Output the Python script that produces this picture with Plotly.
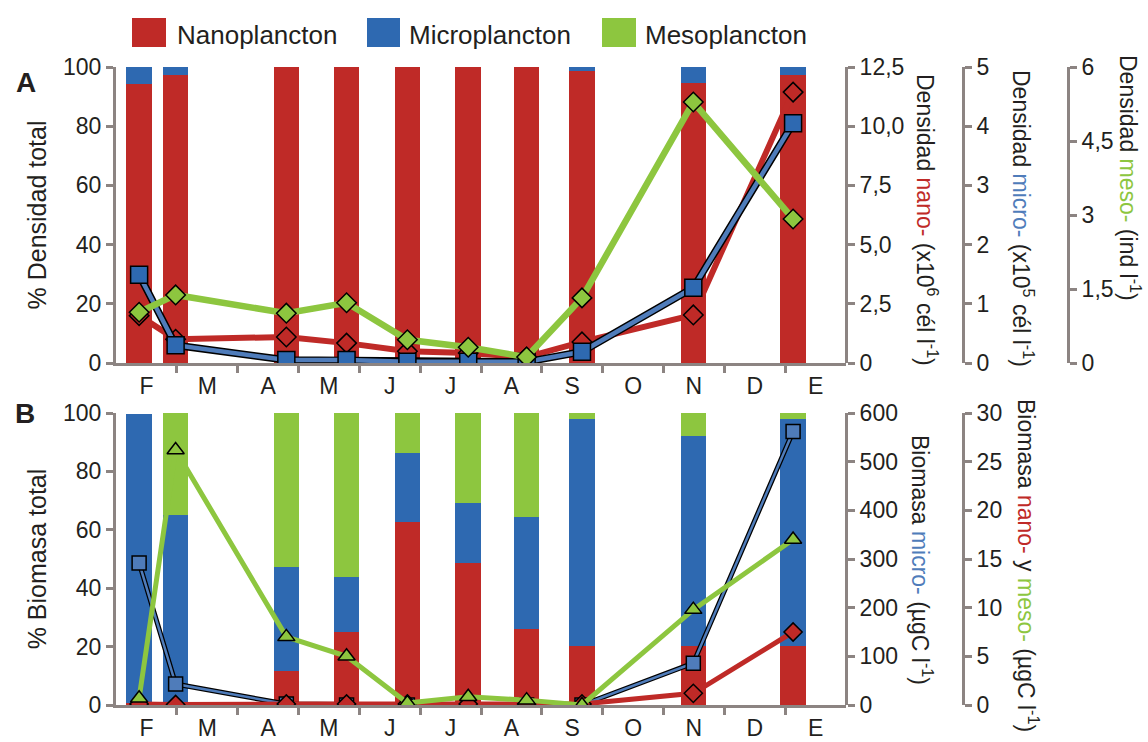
import plotly.graph_objects as go

# ---------------- data ----------------
months = ["F", "M", "A", "M", "J", "J", "A", "S", "O", "N", "D", "E"]
# sampling time, in months since 1 February
sample_t = [0.38, 0.98, 2.80, 3.79, 4.79, 5.79, 6.75, 7.66, 9.49, 11.13]

# Panel A: % of total density
dens_nano_pct = [94.3, 97.3, 100, 100, 100, 100, 100, 98.7, 94.5, 97.3]
dens_micro_pct = [5.7, 2.7, 0, 0, 0, 0, 0, 1.3, 5.5, 2.7]
dens_meso_pct = [0, 0, 0, 0, 0, 0, 0, 0, 0, 0]

# Panel A: densities
dens_nano = [2.0, 1.0, 1.1, 0.84, 0.5, 0.42, 0.25, 0.89, 2.03, 11.44]   # x10^6 cel/l
dens_micro = [1.49, 0.30, 0.05, 0.05, 0.02, 0.02, 0.02, 0.19, 1.27, 4.05]  # x10^5 cel/l
dens_meso = [1.03, 1.38, 1.01, 1.22, 0.47, 0.32, 0.12, 1.32, 5.29, 2.92]  # ind/l

# Panel B: % of total biomass
bio_nano_pct = [0.6, 0.3, 11.8, 24.9, 62.8, 48.5, 26.0, 20.2, 20.2, 20.2]
bio_micro_pct = [99.0, 64.8, 35.4, 18.8, 23.6, 20.6, 38.5, 77.7, 71.9, 77.7]
bio_meso_pct = [0.0, 34.9, 52.8, 56.3, 13.6, 30.9, 35.5, 2.1, 7.9, 2.1]

# Panel B: biomass (ugC/l)
bio_micro = [292, 43, 2, 0, 0, 0, 0, 0, 86, 562]
bio_nano = [0.1, 0.05, 0.1, 0.1, 0.1, 0.1, 0.1, 0.1, 1.2, 7.5]
bio_meso = [0.7, 26.2, 7.0, 5.0, 0.2, 0.85, 0.5, 0.0, 9.8, 17.0]

# tick labels
pct_ticks = [0, 20, 40, 60, 80, 100]
nanoA_ticks = [0, 2.5, 5, 7.5, 10, 12.5]
nanoA_text = ["0", "2,5", "5,0", "7,5", "10,0", "12,5"]
microA_ticks = [0, 1, 2, 3, 4, 5]
mesoA_ticks = [0, 1.5, 3, 4.5, 6]
mesoA_text = ["0", "1,5", "3", "4,5", "6"]
microB_ticks = [0, 100, 200, 300, 400, 500, 600]
nanomesoB_ticks = [0, 5, 10, 15, 20, 25, 30]

legend_names = ["Nanoplancton", "Microplancton", "Mesoplancton"]

# ---------------- style ----------------
RED = "#bf2a27"
BLUE = "#2e69b1"
GREEN = "#8dc63f"
LBLUE = "#4f7cba"
GRAY = "#8c8482"
TXT = "#231f20"
FONT = "Liberation Sans, Arial, sans-serif"
W, H = 1148, 742


def px(x):
    return x / W


def py(y):
    return 1 - y / H


BAR_W = 0.42
fig = go.Figure()

# ---- Panel A bars ----
for vals, col in [(dens_nano_pct, RED), (dens_micro_pct, BLUE), (dens_meso_pct, GREEN)]:
    fig.add_trace(go.Bar(x=sample_t, y=vals, width=BAR_W, marker=dict(color=col, line=dict(width=0)),
                         xaxis="x", yaxis="y", showlegend=False))
# ---- Panel B bars ----
for vals, col in [(bio_nano_pct, RED), (bio_micro_pct, BLUE), (bio_meso_pct, GREEN)]:
    fig.add_trace(go.Bar(x=sample_t, y=vals, width=BAR_W, marker=dict(color=col, line=dict(width=0)),
                         xaxis="x2", yaxis="y5", showlegend=False))

# ---- Panel A lines ----
fig.add_trace(go.Scatter(x=sample_t, y=dens_nano, mode="lines+markers", xaxis="x", yaxis="y2",
                         line=dict(color=RED, width=6),
                         marker=dict(symbol="diamond", size=15, color=RED, line=dict(color="black", width=1.5)),
                         showlegend=False))
fig.add_trace(go.Scatter(x=sample_t, y=dens_micro, mode="lines", xaxis="x", yaxis="y3",
                         line=dict(color="black", width=7.5), showlegend=False))
fig.add_trace(go.Scatter(x=sample_t, y=dens_micro, mode="lines+markers", xaxis="x", yaxis="y3",
                         line=dict(color=LBLUE, width=4.5),
                         marker=dict(symbol="square", size=17, color=BLUE, line=dict(color="black", width=1.5)),
                         showlegend=False))
fig.add_trace(go.Scatter(x=sample_t, y=dens_meso, mode="lines+markers", xaxis="x", yaxis="y4",
                         line=dict(color=GREEN, width=6.5),
                         marker=dict(symbol="diamond", size=15, color=GREEN, line=dict(color="black", width=1.5)),
                         showlegend=False))

# ---- Panel B lines ----
fig.add_trace(go.Scatter(x=sample_t, y=bio_nano, mode="lines+markers", xaxis="x2", yaxis="y7",
                         line=dict(color=RED, width=5),
                         marker=dict(symbol="diamond", size=14, color=RED, line=dict(color="black", width=1.5)),
                         showlegend=False))
fig.add_trace(go.Scatter(x=sample_t, y=bio_micro, mode="lines", xaxis="x2", yaxis="y6",
                         line=dict(color="black", width=5), showlegend=False))
fig.add_trace(go.Scatter(x=sample_t, y=bio_micro, mode="lines+markers", xaxis="x2", yaxis="y6",
                         line=dict(color=LBLUE, width=2.5),
                         marker=dict(symbol="square", size=14, color=LBLUE, line=dict(color="black", width=1.5)),
                         showlegend=False))
fig.add_trace(go.Scatter(x=sample_t, y=bio_meso, mode="lines+markers", xaxis="x2", yaxis="y7",
                         line=dict(color=GREEN, width=5),
                         marker=dict(symbol="triangle-up", size=15, color=GREEN, line=dict(color="black", width=1.5)),
                         showlegend=False))

tickfont = dict(family=FONT, size=23, color=TXT)
XDOM = [px(116), px(846)]
A_DOM = [py(363), py(67)]
B_DOM = [py(705), py(413)]


def xaxis_cfg(anchor):
    return dict(domain=XDOM, anchor=anchor, range=[0, 12], automargin=False,
                tickmode="array", tickvals=[i + 0.5 for i in range(12)], ticktext=months,
                ticks="", tickfont=tickfont, showline=True, linecolor=GRAY, linewidth=3,
                showgrid=False, zeroline=False, fixedrange=True,
                minor=dict(tickmode="array", tickvals=list(range(1, 12)), ticks="outside",
                           ticklen=7, tickwidth=3, tickcolor=GRAY, showgrid=False))


def yleft_cfg(dom, anchor, title):
    return dict(domain=dom, anchor=anchor, range=[0, 100], tickmode="array", tickvals=pct_ticks,
                automargin=False,
                ticks="outside", ticklen=7, tickwidth=3, tickcolor=GRAY, tickfont=tickfont,
                showline=True, linecolor=GRAY, linewidth=3, showgrid=False, zeroline=False,
                title=dict(text=title, font=dict(family=FONT, size=25, color=TXT), standoff=10))


def yright_cfg(over, pos, rng, tv, tt=None):
    d = dict(overlaying=over, anchor="free", position=pos, side="right", range=rng,
             automargin=False,
             tickmode="array", tickvals=tv, ticks="outside", ticklen=7, tickwidth=3,
             tickcolor=GRAY, tickfont=tickfont, showline=True, linecolor=GRAY, linewidth=3,
             showgrid=False, zeroline=False)
    if tt is not None:
        d["ticktext"] = tt
    return d


fig.update_layout(
    width=W, height=H, margin=dict(l=0, r=0, t=0, b=0, autoexpand=False),
    paper_bgcolor="white", plot_bgcolor="rgba(0,0,0,0)",
    barmode="stack", bargap=0, showlegend=False,
    font=dict(family=FONT, color=TXT),
    xaxis=xaxis_cfg("y"),
    xaxis2=xaxis_cfg("y5"),
    yaxis=yleft_cfg(A_DOM, "x", "% Densidad total"),
    yaxis2=yright_cfg("y", px(846), [0, 12.5], nanoA_ticks, nanoA_text),
    yaxis3=yright_cfg("y", px(963), [0, 5], microA_ticks),
    yaxis4=yright_cfg("y", px(1068), [0, 6], mesoA_ticks, mesoA_text),
    yaxis5=yleft_cfg(B_DOM, "x2", "% Biomasa total"),
    yaxis6=yright_cfg("y5", px(846), [0, 600], microB_ticks),
    yaxis7=yright_cfg("y5", px(963), [0, 30], nanomesoB_ticks),
)

# ---- custom legend (large colour boxes) ----
leg_boxes = [(132, 166), (367, 400), (602, 636)]
leg_text_x = [175, 407, 643]
shapes = []
annots = []
for (x0, x1), tx, name, col in zip(leg_boxes, leg_text_x, legend_names, [RED, BLUE, GREEN]):
    shapes.append(dict(type="rect", xref="paper", yref="paper", x0=px(x0), x1=px(x1),
                       y0=py(47), y1=py(18), fillcolor=col, line=dict(width=0)))
    annots.append(dict(text=name, xref="paper", yref="paper", x=px(tx), y=py(35),
                       xanchor="left", yanchor="middle", showarrow=False,
                       font=dict(family=FONT, size=26, color=TXT)))

# panel letters
annots.append(dict(text="<b>A</b>", xref="paper", yref="paper", x=px(26), y=py(82),
                   xanchor="center", yanchor="middle", showarrow=False,
                   font=dict(family=FONT, size=28, color=TXT)))
annots.append(dict(text="<b>B</b>", xref="paper", yref="paper", x=px(25), y=py(413),
                   xanchor="center", yanchor="middle", showarrow=False,
                   font=dict(family=FONT, size=28, color=TXT)))

# right axis titles (reading top to bottom)
tfont = dict(family=FONT, size=23, color=TXT)
right_titles = [
    ("Densidad <span style='color:%s'>nano-</span> (x10<sup>6</sup> cél l<sup>-1</sup>)" % RED, 927, 220),
    ("Densidad <span style='color:%s'>micro-</span> (x10<sup>5</sup> cél l<sup>-1</sup>)" % LBLUE, 1023, 218),
    ("Densidad <span style='color:%s'>meso-</span> (ind l<sup>-1</sup>)" % GREEN, 1130, 178),
    ("Biomasa <span style='color:%s'>micro-</span> (µgC l<sup>-1</sup>)" % LBLUE, 922, 560),
    ("Biomasa <span style='color:%s'>nano-</span> y <span style='color:%s'>meso-</span> (µgC l<sup>-1</sup>)" % (RED, GREEN), 1028, 565),
]
for t, x, y in right_titles:
    annots.append(dict(text=t, xref="paper", yref="paper", x=px(x), y=py(y), textangle=90,
                       xanchor="center", yanchor="middle", showarrow=False, font=tfont))

fig.update_layout(shapes=shapes, annotations=annots)
fig.write_html("out.html")
